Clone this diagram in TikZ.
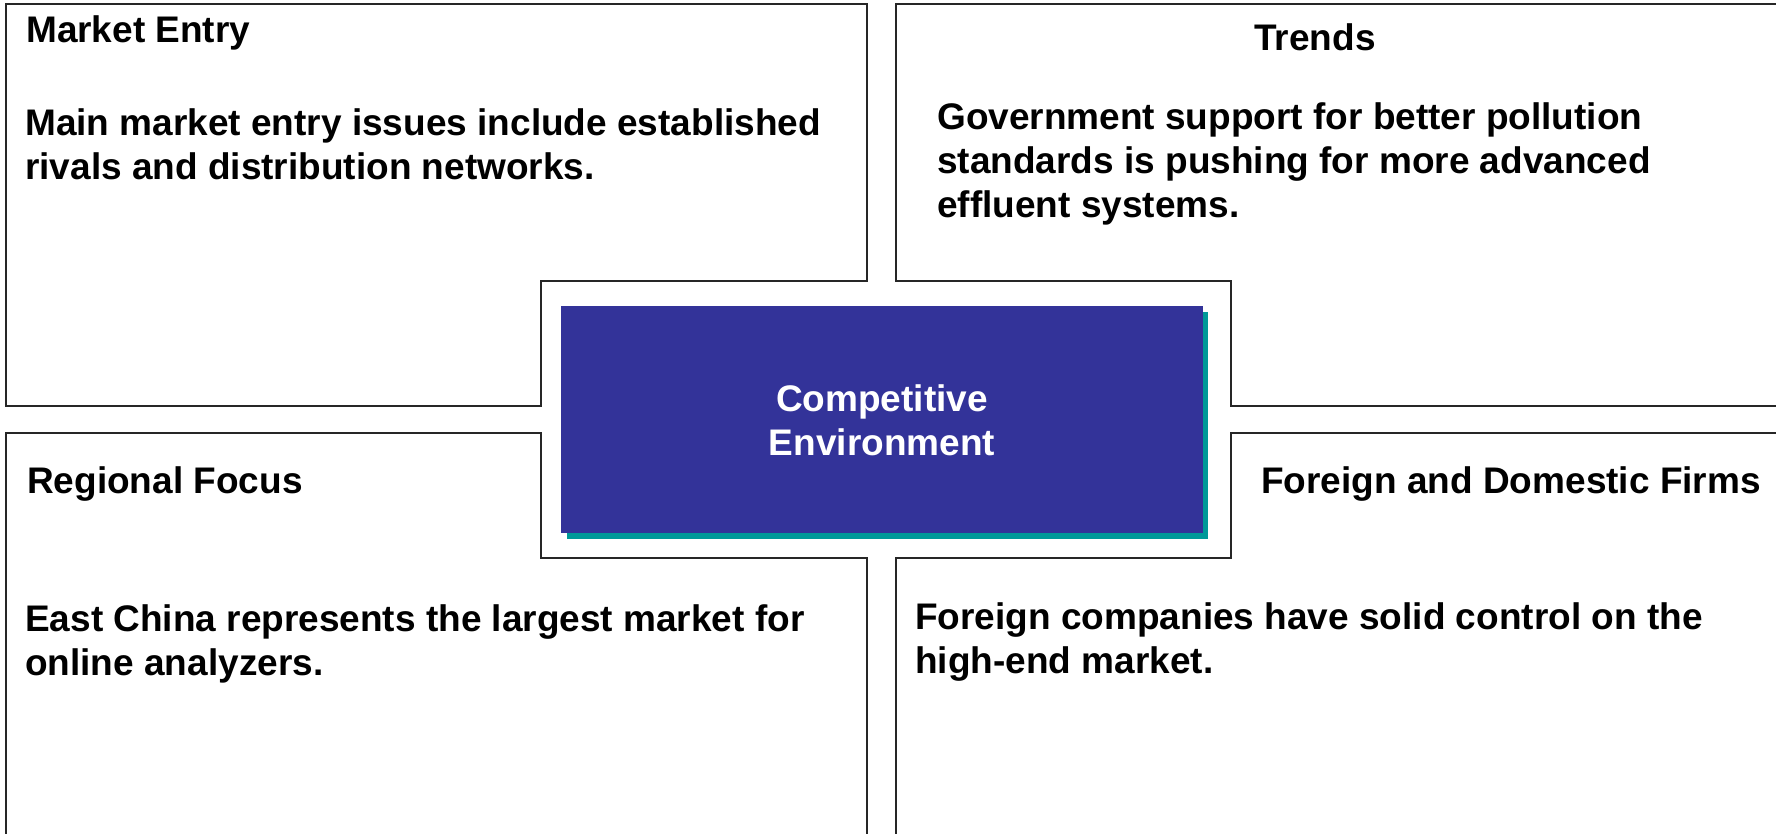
\documentclass[tikz,border=0pt]{standalone}
\usepackage{fontspec}
\setmainfont{Liberation Sans}
\definecolor{boxblue}{RGB}{51,51,153}
\definecolor{shadowteal}{RGB}{0,153,153}
\begin{document}
\begin{tikzpicture}[x=1pt,y=-1pt,
  panel/.style={draw=black!85,line width=1.6pt,line join=miter},
  label/.style={anchor=base west,inner sep=0pt,align=left,font=\bfseries\fontsize{37}{44}\selectfont,text=black},
  centertext/.style={inner sep=0pt,align=center,font=\bfseries\fontsize{37}{44}\selectfont,text=white}]
\useasboundingbox (0,0) rectangle (1776,833);
\clip (0,0) rectangle (1776,833);
% four L-shaped panels
\draw[panel] (6,4) -- (867,4) -- (867,281) -- (541,281) -- (541,406) -- (6,406) -- cycle;
\draw[panel] (896,4) -- (1800,4) -- (1800,406) -- (1231,406) -- (1231,281) -- (896,281) -- cycle;
\draw[panel] (6,433) -- (541,433) -- (541,558) -- (867,558) -- (867,860) -- (6,860) -- cycle;
\draw[panel] (1231,433) -- (1800,433) -- (1800,860) -- (896,860) -- (896,558) -- (1231,558) -- cycle;
% central box with shadow
\fill[shadowteal] (567,312) rectangle (1208,539);
\fill[boxblue] (561,306) rectangle (1203,533);
\node[centertext] (center) at (882,420) {Competitive\\Environment};
% titles
\node[label] (t1) at (26,42) {Market Entry};
\node[label,anchor=base] (t2) at (1315,50) {Trends};
\node[label] (t3) at (27,493) {Regional Focus};
\node[label] (t4) at (1261,493) {Foreign and Domestic Firms};
% bodies (base anchor = baseline of last line)
\node[label] (b1) at (25,179) {Main market entry issues include established\\rivals and distribution networks.};
\node[label] (b2) at (937,217) {Government support for better pollution\\standards is pushing for more advanced\\effluent systems.};
\node[label] (b3) at (25,675) {East China represents the largest market for\\online analyzers.};
\node[label] (b4) at (915,673) {Foreign companies have solid control on the\\high-end market.};
\end{tikzpicture}
\end{document}
